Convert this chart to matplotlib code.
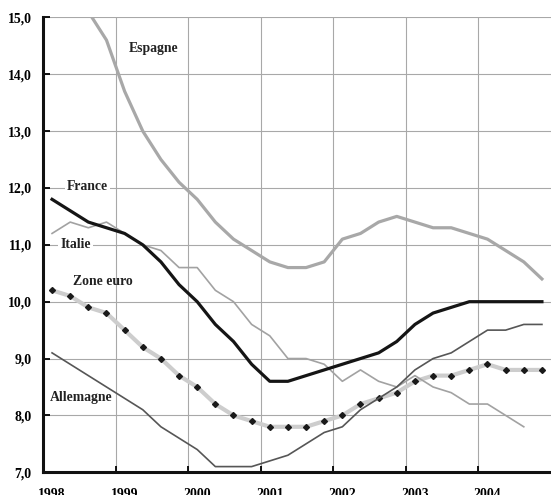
import matplotlib.pyplot as plt
import numpy as np

plt.rcParams['font.family'] = ['Liberation Serif', 'DejaVu Serif']
plt.rcParams['font.weight'] = 'bold'

# quarterly data, 1998 T1 -> 2004 T4
quarters = 1998 + (np.arange(28) + 0.5) / 4

espagne = [16.0, 15.6, 15.1, 14.6, 13.7, 13.0, 12.5, 12.1, 11.8, 11.4, 11.1, 10.9, 10.7, 10.6,
           10.6, 10.7, 11.1, 11.2, 11.4, 11.5, 11.4, 11.3, 11.3, 11.2, 11.1, 10.9, 10.7, 10.4]
france = [11.8, 11.6, 11.4, 11.3, 11.2, 11.0, 10.7, 10.3, 10.0, 9.6, 9.3, 8.9, 8.6, 8.6,
          8.7, 8.8, 8.9, 9.0, 9.1, 9.3, 9.6, 9.8, 9.9, 10.0, 10.0, 10.0, 10.0, 10.0]
italie = [11.2, 11.4, 11.3, 11.4, 11.2, 11.0, 10.9, 10.6, 10.6, 10.2, 10.0, 9.6, 9.4, 9.0,
          9.0, 8.9, 8.6, 8.8, 8.6, 8.5, 8.7, 8.5, 8.4, 8.2, 8.2, 8.0, 7.8]
zone_euro = [10.2, 10.1, 9.9, 9.8, 9.5, 9.2, 9.0, 8.7, 8.5, 8.2, 8.0, 7.9, 7.8, 7.8,
             7.8, 7.9, 8.0, 8.2, 8.3, 8.4, 8.6, 8.7, 8.7, 8.8, 8.9, 8.8, 8.8, 8.8]
allemagne = [9.1, 8.9, 8.7, 8.5, 8.3, 8.1, 7.8, 7.6, 7.4, 7.1, 7.1, 7.1, 7.2, 7.3,
             7.5, 7.7, 7.8, 8.1, 8.3, 8.5, 8.8, 9.0, 9.1, 9.3, 9.5, 9.5, 9.6, 9.6]

years = [1998, 1999, 2000, 2001, 2002, 2003, 2004]
yticks = [7, 8, 9, 10, 11, 12, 13, 14, 15]

fig = plt.figure(figsize=(5.51, 4.95), dpi=100)
ax = fig.add_axes([0.078, 0.0459, 0.922, 0.919])

ax.plot(quarters, zone_euro, color='#cdcdcd', lw=3.0, marker='D', ms=3.0,
        mfc='#1a1a1a', mec='#1a1a1a', zorder=3)
ax.plot(quarters[:len(italie)], italie, color='#a2a2a2', lw=1.2, zorder=3)
ax.plot(quarters, allemagne, color='#565656', lw=1.2, zorder=4)
ax.plot(quarters, espagne, color='#a8a8a8', lw=2.3, zorder=4)
ax.plot(quarters, france, color='#151515', lw=2.3, zorder=5)

lab = dict(fontsize=9.9, fontweight='bold', ha='center', va='center', color='#222222', zorder=6)
ax.text(1999.53, 14.46, 'Espagne', **lab)
ax.text(1998.61, 12.02, 'France', bbox=dict(fc='white', ec='none', pad=1.5), **lab)
ax.text(1998.45, 11.0, 'Italie', bbox=dict(fc='white', ec='none', pad=1.5), **lab)
ax.text(1998.83, 10.36, 'Zone euro', **lab)
ax.text(1998.52, 8.31, 'Allemagne', **lab)

ax.set_xlim(1998, 2005)
ax.set_ylim(7, 15)
ax.set_yticks(yticks)
ax.set_yticklabels([f'{v:.1f}'.replace('.', ',') for v in yticks])
ax.set_xticks(years)
ax.set_xticklabels([])
ax.set_xticks([y + 0.125 for y in years], minor=True)
ax.set_xticklabels([str(y) for y in years], minor=True)

ax.tick_params(axis='y', direction='in', length=5, width=1.3, pad=8, labelsize=9.9)
ax.tick_params(axis='x', which='major', direction='in', length=4, width=1.3)
ax.tick_params(axis='x', which='minor', length=0, pad=11, labelsize=9.9)

ax.grid(True, color='#a8a8a8', lw=0.8)
ax.set_axisbelow(True)
for s in ['top', 'right']:
    ax.spines[s].set_visible(False)
ax.spines['left'].set_linewidth(2.2)
ax.spines['bottom'].set_linewidth(2.2)
ax.spines['left'].set_color('#111111')
ax.spines['bottom'].set_color('#111111')

fig.savefig('out.png', dpi=100)
